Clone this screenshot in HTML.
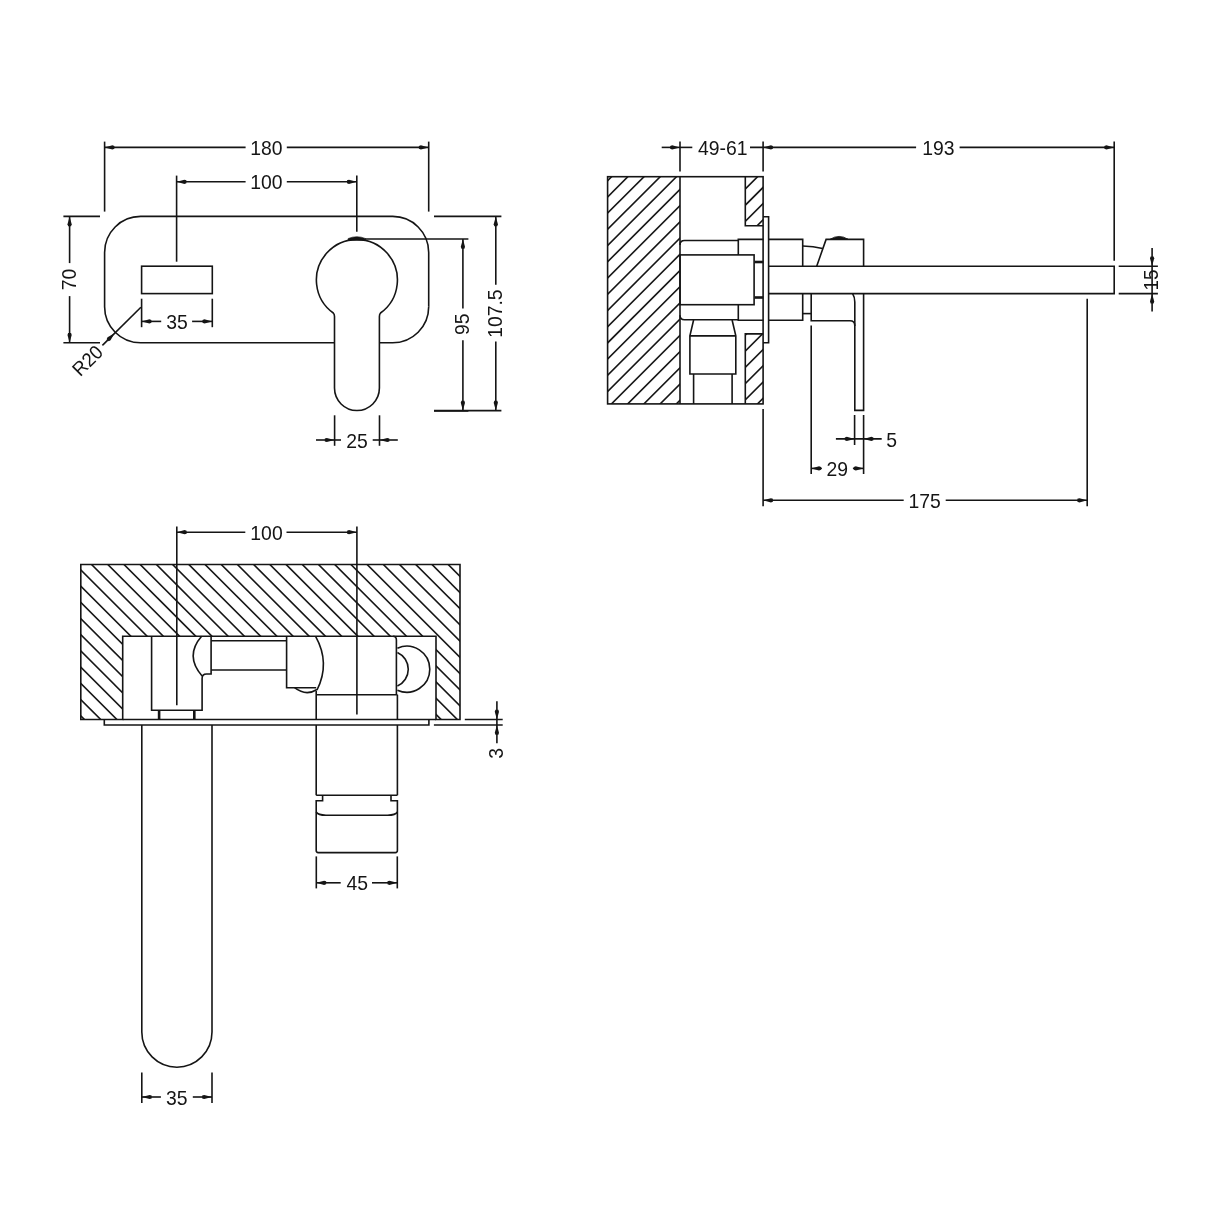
<!DOCTYPE html>
<html lang="en">
<head>
<meta charset="utf-8">
<title>Wall mounted basin mixer - technical drawing</title>
<style>
html,body{margin:0;padding:0;background:#fff;}
body{width:1214px;height:1214px;overflow:hidden;}
svg{display:block;filter:grayscale(1);}
svg text{font-family:"Liberation Sans",sans-serif;fill:#151515;stroke:none;}
</style>
</head>
<body>
<svg width="1214" height="1214" viewBox="0 0 1214 1214">
<rect x="0" y="0" width="1214" height="1214" fill="#ffffff"/>
<defs>
<clipPath id="h1"><rect x="607.6" y="176.7" width="72.4" height="227.2"/><rect x="745.3" y="176.7" width="17.8" height="49"/><rect x="745.3" y="333.9" width="17.8" height="70"/></clipPath>
<clipPath id="h2"><rect x="80.8" y="564.5" width="379.2" height="71.8"/><rect x="80.8" y="636.3" width="41.9" height="83.2"/><rect x="436" y="636.3" width="24" height="83.2"/></clipPath>
</defs>
<g stroke="#151515" fill="none" stroke-linecap="butt" stroke-linejoin="miter">
<path d="M 334.5 342.8 L 140.6 342.8 A 36 36 0 0 1 104.6 306.8 L 104.6 252.4 A 36 36 0 0 1 140.6 216.4 L 392.7 216.4 A 36 36 0 0 1 428.7 252.4 L 428.7 306.8" stroke-width="1.6" fill="none"/>
<path d="M 428.7 306.8 A 36 36 0 0 1 392.7 342.8 L 379.4 342.8" stroke-width="1.6" fill="none"/>
<rect x="141.6" y="266.2" width="70.7" height="27.4" stroke-width="1.6" fill="none"/>
<path d="M 334.5 388.1 L 334.5 316.61 Q 334.5 314.21 333.3 313.01 A 40.5 40.5 0 1 1 380.5 313.01 Q 379.4 314.21 379.4 316.61 L 379.4 388.1 A 22.45 22.45 0 0 1 334.5 388.1 Z" stroke-width="1.6" fill="none"/>
<path d="M 348 240.3 L 348.2 238.5 Q 356.8 234.9 365.4 238.5 L 365.6 240.3 Z" stroke-width="0.6" fill="#151515"/>
<line x1="104.6" y1="141.6" x2="104.6" y2="211.6" stroke-width="1.6"/>
<line x1="428.7" y1="141.6" x2="428.7" y2="211.6" stroke-width="1.6"/>
<line x1="104.6" y1="147.4" x2="245.6" y2="147.4" stroke-width="1.6"/>
<line x1="286.8" y1="147.4" x2="428.7" y2="147.4" stroke-width="1.6"/>
<polygon points="104.6,147.4 112.44,145.3 114.4,145.93 114.4,148.87 112.44,149.5" fill="#151515" stroke="none"/>
<polygon points="428.7,147.4 420.86,149.5 418.9,148.87 418.9,145.93 420.86,145.3" fill="#151515" stroke="none"/>
<text transform="translate(266.3 147.4) scale(0.94 1)" x="0" y="7.63" font-size="20.6" text-anchor="middle">180</text>
<line x1="176.6" y1="175.6" x2="176.6" y2="261.7" stroke-width="1.6"/>
<line x1="356.8" y1="175.6" x2="356.8" y2="231.7" stroke-width="1.6"/>
<line x1="176.6" y1="181.8" x2="245.6" y2="181.8" stroke-width="1.6"/>
<line x1="286.8" y1="181.8" x2="356.8" y2="181.8" stroke-width="1.6"/>
<polygon points="176.6,181.8 184.44,179.7 186.4,180.33 186.4,183.27 184.44,183.9" fill="#151515" stroke="none"/>
<polygon points="356.8,181.8 348.96,183.9 347,183.27 347,180.33 348.96,179.7" fill="#151515" stroke="none"/>
<text transform="translate(266.3 181.8) scale(0.94 1)" x="0" y="7.63" font-size="20.6" text-anchor="middle">100</text>
<line x1="63.4" y1="216.4" x2="100" y2="216.4" stroke-width="1.6"/>
<line x1="63.4" y1="342.8" x2="100" y2="342.8" stroke-width="1.6"/>
<line x1="69.6" y1="216.4" x2="69.6" y2="263.1" stroke-width="1.6"/>
<line x1="69.6" y1="296.1" x2="69.6" y2="342.8" stroke-width="1.6"/>
<polygon points="69.6,216.4 71.7,224.24 71.07,226.2 68.13,226.2 67.5,224.24" fill="#151515" stroke="none"/>
<polygon points="69.6,342.8 67.5,334.96 68.13,333 71.07,333 71.7,334.96" fill="#151515" stroke="none"/>
<text transform="translate(69.6 279.6) rotate(-90) scale(0.94 1)" x="0" y="6.33" font-size="20.6" text-anchor="middle">70</text>
<line x1="141.6" y1="298.7" x2="141.6" y2="327.2" stroke-width="1.6"/>
<line x1="212.3" y1="298.7" x2="212.3" y2="327.2" stroke-width="1.6"/>
<line x1="141.6" y1="321.4" x2="161.2" y2="321.4" stroke-width="1.6"/>
<line x1="192.1" y1="321.4" x2="212.3" y2="321.4" stroke-width="1.6"/>
<polygon points="141.6,321.4 149.44,319.3 151.4,319.93 151.4,322.87 149.44,323.5" fill="#151515" stroke="none"/>
<polygon points="212.3,321.4 204.46,323.5 202.5,322.87 202.5,319.93 204.46,319.3" fill="#151515" stroke="none"/>
<text transform="translate(177 321.4) scale(0.94 1)" x="0" y="7.63" font-size="20.6" text-anchor="middle">35</text>
<line x1="140.9" y1="307.3" x2="102.4" y2="345.4" stroke-width="1.6"/>
<polygon points="114.6,333.3 110.54,340.33 108.71,341.27 106.63,339.19 107.57,337.36" fill="#151515" stroke="none"/>
<text transform="translate(87.1 360.2) rotate(-45) scale(0.94 1)" x="0" y="7.28" font-size="19.6" text-anchor="middle">R20</text>
<line x1="365" y1="239" x2="468.4" y2="239" stroke-width="1.6"/>
<line x1="434" y1="410.6" x2="501.4" y2="410.6" stroke-width="1.6"/>
<line x1="434" y1="411" x2="468.4" y2="411" stroke-width="1.6"/>
<line x1="462.9" y1="239" x2="462.9" y2="308.4" stroke-width="1.6"/>
<line x1="462.9" y1="340.3" x2="462.9" y2="410.6" stroke-width="1.6"/>
<polygon points="462.9,239 465,246.84 464.37,248.8 461.43,248.8 460.8,246.84" fill="#151515" stroke="none"/>
<polygon points="462.9,410.6 460.8,402.76 461.43,400.8 464.37,400.8 465,402.76" fill="#151515" stroke="none"/>
<text transform="translate(462.9 324.3) rotate(-90) scale(0.94 1)" x="0" y="6.33" font-size="20.6" text-anchor="middle">95</text>
<line x1="434" y1="216.4" x2="501.4" y2="216.4" stroke-width="1.6"/>
<line x1="495.8" y1="216.4" x2="495.8" y2="284.7" stroke-width="1.6"/>
<line x1="495.8" y1="341.4" x2="495.8" y2="410.6" stroke-width="1.6"/>
<polygon points="495.8,216.4 497.9,224.24 497.27,226.2 494.33,226.2 493.7,224.24" fill="#151515" stroke="none"/>
<polygon points="495.8,410.6 493.7,402.76 494.33,400.8 497.27,400.8 497.9,402.76" fill="#151515" stroke="none"/>
<text transform="translate(495.8 313.6) rotate(-90) scale(0.94 1)" x="0" y="6.33" font-size="20.6" text-anchor="middle">107.5</text>
<line x1="334.6" y1="415.3" x2="334.6" y2="445.8" stroke-width="1.6"/>
<line x1="379.5" y1="415.3" x2="379.5" y2="445.8" stroke-width="1.6"/>
<line x1="316" y1="440" x2="341" y2="440" stroke-width="1.6"/>
<line x1="372.7" y1="440" x2="397.8" y2="440" stroke-width="1.6"/>
<polygon points="334.6,440 326.76,442.1 324.8,441.47 324.8,438.53 326.76,437.9" fill="#151515" stroke="none"/>
<polygon points="379.5,440 387.34,437.9 389.3,438.53 389.3,441.47 387.34,442.1" fill="#151515" stroke="none"/>
<text transform="translate(357 440) scale(0.94 1)" x="0" y="7.63" font-size="20.6" text-anchor="middle">25</text>
<g clip-path="url(#h1)">
<line x1="605.6" y1="150.26" x2="765.1" y2="-9.24" stroke-width="1.6"/>
<line x1="605.6" y1="166.48" x2="765.1" y2="6.98" stroke-width="1.6"/>
<line x1="605.6" y1="182.7" x2="765.1" y2="23.2" stroke-width="1.6"/>
<line x1="605.6" y1="198.92" x2="765.1" y2="39.42" stroke-width="1.6"/>
<line x1="605.6" y1="215.14" x2="765.1" y2="55.64" stroke-width="1.6"/>
<line x1="605.6" y1="231.36" x2="765.1" y2="71.86" stroke-width="1.6"/>
<line x1="605.6" y1="247.58" x2="765.1" y2="88.08" stroke-width="1.6"/>
<line x1="605.6" y1="263.8" x2="765.1" y2="104.3" stroke-width="1.6"/>
<line x1="605.6" y1="280.02" x2="765.1" y2="120.52" stroke-width="1.6"/>
<line x1="605.6" y1="296.24" x2="765.1" y2="136.74" stroke-width="1.6"/>
<line x1="605.6" y1="312.46" x2="765.1" y2="152.96" stroke-width="1.6"/>
<line x1="605.6" y1="328.68" x2="765.1" y2="169.18" stroke-width="1.6"/>
<line x1="605.6" y1="344.9" x2="765.1" y2="185.4" stroke-width="1.6"/>
<line x1="605.6" y1="361.12" x2="765.1" y2="201.62" stroke-width="1.6"/>
<line x1="605.6" y1="377.34" x2="765.1" y2="217.84" stroke-width="1.6"/>
<line x1="605.6" y1="393.56" x2="765.1" y2="234.06" stroke-width="1.6"/>
<line x1="605.6" y1="409.78" x2="765.1" y2="250.28" stroke-width="1.6"/>
<line x1="605.6" y1="426" x2="765.1" y2="266.5" stroke-width="1.6"/>
<line x1="605.6" y1="442.22" x2="765.1" y2="282.72" stroke-width="1.6"/>
<line x1="605.6" y1="458.44" x2="765.1" y2="298.94" stroke-width="1.6"/>
<line x1="605.6" y1="474.66" x2="765.1" y2="315.16" stroke-width="1.6"/>
<line x1="605.6" y1="490.88" x2="765.1" y2="331.38" stroke-width="1.6"/>
<line x1="605.6" y1="507.1" x2="765.1" y2="347.6" stroke-width="1.6"/>
<line x1="605.6" y1="523.32" x2="765.1" y2="363.82" stroke-width="1.6"/>
<line x1="605.6" y1="539.54" x2="765.1" y2="380.04" stroke-width="1.6"/>
<line x1="605.6" y1="555.76" x2="765.1" y2="396.26" stroke-width="1.6"/>
<line x1="605.6" y1="571.98" x2="765.1" y2="412.48" stroke-width="1.6"/>
<line x1="605.6" y1="588.2" x2="765.1" y2="428.7" stroke-width="1.6"/>
</g>
<rect x="607.6" y="176.7" width="155.5" height="227.2" stroke-width="1.6" fill="none"/>
<line x1="680" y1="176.7" x2="680" y2="403.9" stroke-width="1.6"/>
<path d="M 745.3 176.7 L 745.3 225.7 L 763.1 225.7" stroke-width="1.6" fill="none"/>
<path d="M 745.3 403.9 L 745.3 333.9 L 763.1 333.9" stroke-width="1.6" fill="none"/>
<path d="M 763.1 216.8 L 768.6 216.8 L 768.6 342.8 L 763.1 342.8" stroke-width="1.6" fill="none"/>
<path d="M 738.3 240.5 L 684.5 240.5 Q 680 240.5 680 245 M 680 315.3 Q 680 319.8 684.5 319.8 L 738.3 319.8" stroke-width="1.6" fill="none"/>
<path d="M 763.5 239.4 L 738.3 239.4 L 738.3 254.9 M 738.3 304.7 L 738.3 320.2 L 763.5 320.2" stroke-width="1.6" fill="none"/>
<rect x="680" y="254.9" width="74.1" height="49.8" stroke-width="1.6" fill="none"/>
<line x1="754.6" y1="262" x2="763.3" y2="262" stroke-width="2.6"/>
<line x1="754.6" y1="297.5" x2="763.3" y2="297.5" stroke-width="2.6"/>
<path d="M 768.7 239.4 L 802.7 239.4 L 802.7 266.2 M 802.7 293.6 L 802.7 320.2 L 768.7 320.2" stroke-width="1.6" fill="none"/>
<path d="M 768.7 266.2 L 1114.2 266.2 L 1114.2 293.6 L 768.7 293.6" stroke-width="1.6" fill="none"/>
<path d="M 816.7 266.2 L 826.1 239.4 L 863.6 239.4 L 863.6 266.2" stroke-width="1.6" fill="none"/>
<path d="M 802.7 246 Q 813.5 246 822.6 248.6" stroke-width="1.6" fill="none"/>
<path d="M 830.2 239.2 Q 839.1 233.6 848 239.2 Z" stroke-width="0.8" fill="#151515"/>
<line x1="802.7" y1="313.6" x2="811.2" y2="313.6" stroke-width="1.6"/>
<path d="M 811.2 293.6 L 811.2 320.8 L 850 320.8 Q 854.8 320.8 854.8 325.8 L 854.8 410.4 L 863.6 410.4 L 863.6 293.6" stroke-width="1.6" fill="none"/>
<path d="M 852.6 293.6 Q 854.8 297 854.8 302 L 854.8 326" stroke-width="1.6" fill="none"/>
<path d="M 693.6 320 L 689.9 335.9 L 689.9 374 L 735.8 374 L 735.8 335.9 L 732.1 320" stroke-width="1.6" fill="none"/>
<line x1="689.9" y1="335.9" x2="735.8" y2="335.9" stroke-width="1.6"/>
<line x1="693.6" y1="374" x2="693.6" y2="403.9" stroke-width="1.6"/>
<line x1="732.1" y1="374" x2="732.1" y2="403.9" stroke-width="1.6"/>
<line x1="680" y1="141.6" x2="680" y2="171.5" stroke-width="1.6"/>
<line x1="763.1" y1="141.6" x2="763.1" y2="171.5" stroke-width="1.6"/>
<line x1="661.7" y1="147.4" x2="692.3" y2="147.4" stroke-width="1.6"/>
<line x1="750" y1="147.4" x2="916.1" y2="147.4" stroke-width="1.6"/>
<polygon points="680,147.4 672.16,149.5 670.2,148.87 670.2,145.93 672.16,145.3" fill="#151515" stroke="none"/>
<polygon points="763.1,147.4 770.94,145.3 772.9,145.93 772.9,148.87 770.94,149.5" fill="#151515" stroke="none"/>
<text transform="translate(722.8 147.4) scale(0.94 1)" x="0" y="7.63" font-size="20.6" text-anchor="middle">49-61</text>
<line x1="959.6" y1="147.4" x2="1114.2" y2="147.4" stroke-width="1.6"/>
<line x1="1114.2" y1="141.6" x2="1114.2" y2="260.7" stroke-width="1.6"/>
<polygon points="1114.2,147.4 1106.36,149.5 1104.4,148.87 1104.4,145.93 1106.36,145.3" fill="#151515" stroke="none"/>
<text transform="translate(938.3 147.4) scale(0.94 1)" x="0" y="7.63" font-size="20.6" text-anchor="middle">193</text>
<line x1="1118.7" y1="266.2" x2="1157.9" y2="266.2" stroke-width="1.6"/>
<line x1="1118.7" y1="293.6" x2="1157.9" y2="293.6" stroke-width="1.6"/>
<line x1="1152.1" y1="248.1" x2="1152.1" y2="311.5" stroke-width="1.6"/>
<polygon points="1152.1,266.2 1150,258.36 1150.63,256.4 1153.57,256.4 1154.2,258.36" fill="#151515" stroke="none"/>
<polygon points="1152.1,293.6 1154.2,301.44 1153.57,303.4 1150.63,303.4 1150,301.44" fill="#151515" stroke="none"/>
<text transform="translate(1152.1 280) rotate(-90) scale(0.92 1)" x="0" y="6.33" font-size="20.6" text-anchor="middle">15</text>
<line x1="854.6" y1="415" x2="854.6" y2="445" stroke-width="1.6"/>
<line x1="863.6" y1="415" x2="863.6" y2="474" stroke-width="1.6"/>
<line x1="835.9" y1="438.9" x2="881.7" y2="438.9" stroke-width="1.6"/>
<polygon points="854.6,438.9 846.76,441 844.8,440.37 844.8,437.43 846.76,436.8" fill="#151515" stroke="none"/>
<polygon points="863.6,438.9 871.44,436.8 873.4,437.43 873.4,440.37 871.44,441" fill="#151515" stroke="none"/>
<text transform="translate(891.6 438.9) scale(0.94 1)" x="0" y="7.63" font-size="20.6" text-anchor="middle">5</text>
<line x1="811.2" y1="325.6" x2="811.2" y2="474" stroke-width="1.6"/>
<line x1="811.2" y1="468.4" x2="821.9" y2="468.4" stroke-width="1.6"/>
<line x1="852.9" y1="468.4" x2="863.6" y2="468.4" stroke-width="1.6"/>
<polygon points="811.2,468.4 819.04,466.3 821,466.93 821,469.87 819.04,470.5" fill="#151515" stroke="none"/>
<polygon points="863.6,468.4 855.76,470.5 853.8,469.87 853.8,466.93 855.76,466.3" fill="#151515" stroke="none"/>
<text transform="translate(837.2 468.4) scale(0.94 1)" x="0" y="7.63" font-size="20.6" text-anchor="middle">29</text>
<line x1="763.1" y1="409" x2="763.1" y2="506.2" stroke-width="1.6"/>
<line x1="1087.2" y1="298.7" x2="1087.2" y2="506.2" stroke-width="1.6"/>
<line x1="763.1" y1="500.3" x2="903.7" y2="500.3" stroke-width="1.6"/>
<line x1="945.7" y1="500.3" x2="1087.2" y2="500.3" stroke-width="1.6"/>
<polygon points="763.1,500.3 770.94,498.2 772.9,498.83 772.9,501.77 770.94,502.4" fill="#151515" stroke="none"/>
<polygon points="1087.2,500.3 1079.36,502.4 1077.4,501.77 1077.4,498.83 1079.36,498.2" fill="#151515" stroke="none"/>
<text transform="translate(924.7 500.3) scale(0.94 1)" x="0" y="7.63" font-size="20.6" text-anchor="middle">175</text>
<g clip-path="url(#h2)">
<line x1="78.8" y1="162.68" x2="462" y2="545.88" stroke-width="1.6"/>
<line x1="78.8" y1="178.89" x2="462" y2="562.09" stroke-width="1.6"/>
<line x1="78.8" y1="195.1" x2="462" y2="578.3" stroke-width="1.6"/>
<line x1="78.8" y1="211.31" x2="462" y2="594.51" stroke-width="1.6"/>
<line x1="78.8" y1="227.52" x2="462" y2="610.72" stroke-width="1.6"/>
<line x1="78.8" y1="243.73" x2="462" y2="626.93" stroke-width="1.6"/>
<line x1="78.8" y1="259.94" x2="462" y2="643.14" stroke-width="1.6"/>
<line x1="78.8" y1="276.15" x2="462" y2="659.35" stroke-width="1.6"/>
<line x1="78.8" y1="292.36" x2="462" y2="675.56" stroke-width="1.6"/>
<line x1="78.8" y1="308.57" x2="462" y2="691.77" stroke-width="1.6"/>
<line x1="78.8" y1="324.78" x2="462" y2="707.98" stroke-width="1.6"/>
<line x1="78.8" y1="340.99" x2="462" y2="724.19" stroke-width="1.6"/>
<line x1="78.8" y1="357.2" x2="462" y2="740.4" stroke-width="1.6"/>
<line x1="78.8" y1="373.41" x2="462" y2="756.61" stroke-width="1.6"/>
<line x1="78.8" y1="389.62" x2="462" y2="772.82" stroke-width="1.6"/>
<line x1="78.8" y1="405.83" x2="462" y2="789.03" stroke-width="1.6"/>
<line x1="78.8" y1="422.04" x2="462" y2="805.24" stroke-width="1.6"/>
<line x1="78.8" y1="438.25" x2="462" y2="821.45" stroke-width="1.6"/>
<line x1="78.8" y1="454.46" x2="462" y2="837.66" stroke-width="1.6"/>
<line x1="78.8" y1="470.67" x2="462" y2="853.87" stroke-width="1.6"/>
<line x1="78.8" y1="486.88" x2="462" y2="870.08" stroke-width="1.6"/>
<line x1="78.8" y1="503.09" x2="462" y2="886.29" stroke-width="1.6"/>
<line x1="78.8" y1="519.3" x2="462" y2="902.5" stroke-width="1.6"/>
<line x1="78.8" y1="535.51" x2="462" y2="918.71" stroke-width="1.6"/>
<line x1="78.8" y1="551.72" x2="462" y2="934.92" stroke-width="1.6"/>
<line x1="78.8" y1="567.93" x2="462" y2="951.13" stroke-width="1.6"/>
<line x1="78.8" y1="584.14" x2="462" y2="967.34" stroke-width="1.6"/>
<line x1="78.8" y1="600.35" x2="462" y2="983.55" stroke-width="1.6"/>
<line x1="78.8" y1="616.56" x2="462" y2="999.76" stroke-width="1.6"/>
<line x1="78.8" y1="632.77" x2="462" y2="1015.97" stroke-width="1.6"/>
<line x1="78.8" y1="648.98" x2="462" y2="1032.18" stroke-width="1.6"/>
<line x1="78.8" y1="665.19" x2="462" y2="1048.39" stroke-width="1.6"/>
<line x1="78.8" y1="681.4" x2="462" y2="1064.6" stroke-width="1.6"/>
<line x1="78.8" y1="697.61" x2="462" y2="1080.81" stroke-width="1.6"/>
<line x1="78.8" y1="713.82" x2="462" y2="1097.02" stroke-width="1.6"/>
<line x1="78.8" y1="730.03" x2="462" y2="1113.23" stroke-width="1.6"/>
<line x1="78.8" y1="746.24" x2="462" y2="1129.44" stroke-width="1.6"/>
</g>
<path d="M 80.8 564.5 L 460 564.5 L 460 719.5 L 436 719.5 L 436 636.3 L 122.7 636.3 L 122.7 719.5 L 80.8 719.5 Z" stroke-width="1.6" fill="none"/>
<line x1="122.7" y1="719.5" x2="436" y2="719.5" stroke-width="1.6"/>
<path d="M 104.3 719.5 L 104.3 725 L 428.9 725 L 428.9 719.5" stroke-width="1.6" fill="none"/>
<path d="M 141.8 725 L 141.8 1032.1 A 35.1 35.1 0 0 0 212 1032.1 L 212 725" stroke-width="1.6" fill="none"/>
<path d="M 151.6 636.3 L 151.6 710.2 L 202.1 710.2 L 202.1 678.5 Q 202.1 674 206.5 674 L 211.1 674 L 211.1 636.3" stroke-width="1.6" fill="none"/>
<path d="M 201.6 636.3 Q 184.5 656 202.1 676" stroke-width="1.6" fill="none"/>
<line x1="159.1" y1="710.2" x2="159.1" y2="719.5" stroke-width="2.6"/>
<line x1="194.3" y1="710.2" x2="194.3" y2="719.5" stroke-width="2.6"/>
<line x1="211.1" y1="640.8" x2="286.6" y2="640.8" stroke-width="1.6"/>
<line x1="211.1" y1="670" x2="286.6" y2="670" stroke-width="1.6"/>
<path d="M 286.6 636.3 L 286.6 687.7 L 316.2 687.7" stroke-width="1.6" fill="none"/>
<path d="M 315.6 636.3 Q 330.5 663 317 690" stroke-width="1.6" fill="none"/>
<path d="M 294.6 687.7 Q 306 696.5 317 689.5" stroke-width="1.6" fill="none"/>
<path d="M 316.2 691 L 316.2 719.5 M 316.2 725 L 316.2 795.3 M 397.4 694.8 L 397.4 719.5 M 397.4 725 L 397.4 795.3" stroke-width="1.6" fill="none"/>
<path d="M 316.2 694.8 L 397.4 694.8" stroke-width="1.6" fill="none"/>
<path d="M 393 636.3 Q 396.4 636.3 396.4 640 L 396.4 694.8" stroke-width="1.6" fill="none"/>
<path d="M 397.4 648.2 A 23 23 0 1 1 397.4 690.2" stroke-width="1.6" fill="none"/>
<path d="M 397.4 652.4 A 18.5 18.5 0 0 1 397.4 686.1" stroke-width="1.6" fill="none"/>
<path d="M 316.2 795.3 L 397.4 795.3" stroke-width="1.6" fill="none"/>
<path d="M 322.6 795.3 L 322.6 800.7 L 316.2 800.7 L 316.2 850.6 Q 316.2 852.6 318.2 852.6 L 395.4 852.6 Q 397.4 852.6 397.4 850.6 L 397.4 800.7 L 391 800.7 L 391 795.3" stroke-width="1.6" fill="none"/>
<path d="M 316.2 812 Q 318 815.2 326 815.2 L 387.6 815.2 Q 395.6 815.2 397.4 812" stroke-width="1.6" fill="none"/>
<line x1="176.8" y1="526.5" x2="176.8" y2="705.2" stroke-width="1.6"/>
<line x1="356.9" y1="526.5" x2="356.9" y2="714.5" stroke-width="1.6"/>
<line x1="176.8" y1="532.2" x2="245.3" y2="532.2" stroke-width="1.6"/>
<line x1="286.5" y1="532.2" x2="356.9" y2="532.2" stroke-width="1.6"/>
<polygon points="176.8,532.2 184.64,530.1 186.6,530.73 186.6,533.67 184.64,534.3" fill="#151515" stroke="none"/>
<polygon points="356.9,532.2 349.06,534.3 347.1,533.67 347.1,530.73 349.06,530.1" fill="#151515" stroke="none"/>
<text transform="translate(266.5 532.2) scale(0.94 1)" x="0" y="7.63" font-size="20.6" text-anchor="middle">100</text>
<line x1="464.8" y1="719.5" x2="502.7" y2="719.5" stroke-width="1.6"/>
<line x1="433.9" y1="725" x2="502.7" y2="725" stroke-width="1.6"/>
<line x1="496.9" y1="701.3" x2="496.9" y2="743.2" stroke-width="1.6"/>
<polygon points="496.9,719.5 494.8,711.66 495.43,709.7 498.37,709.7 499,711.66" fill="#151515" stroke="none"/>
<polygon points="496.9,725 499,732.84 498.37,734.8 495.43,734.8 494.8,732.84" fill="#151515" stroke="none"/>
<text transform="translate(496.9 753.4) rotate(-90) scale(0.94 1)" x="0" y="6.33" font-size="20.6" text-anchor="middle">3</text>
<line x1="316.3" y1="856.4" x2="316.3" y2="888.4" stroke-width="1.6"/>
<line x1="397.3" y1="856.4" x2="397.3" y2="888.4" stroke-width="1.6"/>
<line x1="316.3" y1="882.8" x2="340.7" y2="882.8" stroke-width="1.6"/>
<line x1="372" y1="882.8" x2="397.3" y2="882.8" stroke-width="1.6"/>
<polygon points="316.3,882.8 324.14,880.7 326.1,881.33 326.1,884.27 324.14,884.9" fill="#151515" stroke="none"/>
<polygon points="397.3,882.8 389.46,884.9 387.5,884.27 387.5,881.33 389.46,880.7" fill="#151515" stroke="none"/>
<text transform="translate(357.2 882.8) scale(0.94 1)" x="0" y="7.63" font-size="20.6" text-anchor="middle">45</text>
<line x1="141.8" y1="1072.4" x2="141.8" y2="1103" stroke-width="1.6"/>
<line x1="212" y1="1072.4" x2="212" y2="1103" stroke-width="1.6"/>
<line x1="141.8" y1="1097" x2="160.9" y2="1097" stroke-width="1.6"/>
<line x1="192.8" y1="1097" x2="212" y2="1097" stroke-width="1.6"/>
<polygon points="141.8,1097 149.64,1094.9 151.6,1095.53 151.6,1098.47 149.64,1099.1" fill="#151515" stroke="none"/>
<polygon points="212,1097 204.16,1099.1 202.2,1098.47 202.2,1095.53 204.16,1094.9" fill="#151515" stroke="none"/>
<text transform="translate(176.8 1097) scale(0.94 1)" x="0" y="7.63" font-size="20.6" text-anchor="middle">35</text>
</g>
</svg>
</body>
</html>
